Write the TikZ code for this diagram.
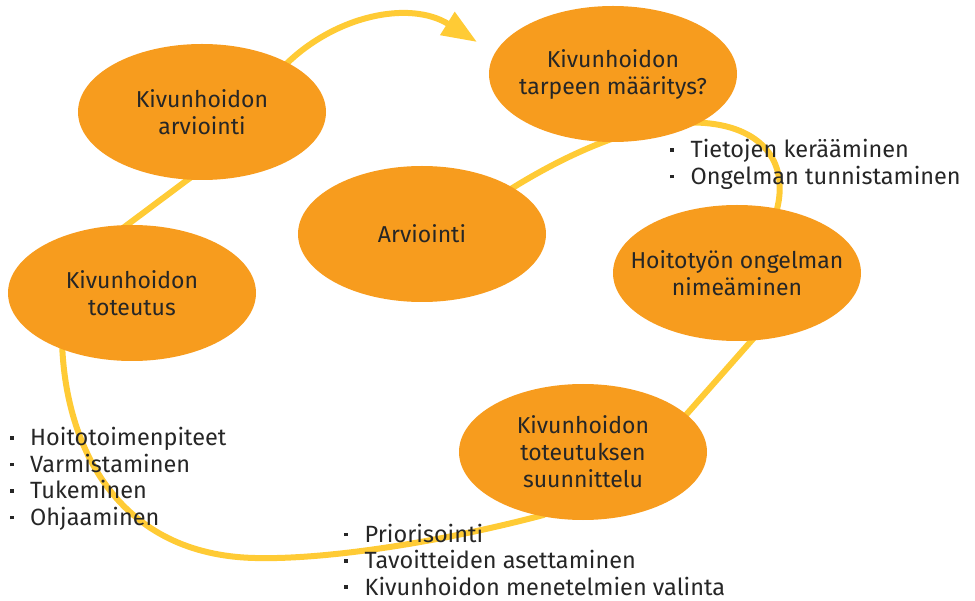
\documentclass[tikz,border=0pt]{standalone}
\usepackage{fontspec}
\setmainfont{Fira Sans}
\usetikzlibrary{shapes.geometric,arrows.meta,backgrounds}
\definecolor{blob}{HTML}{F79C1E}
\definecolor{ribbon}{HTML}{FFCB35}
\definecolor{ink}{HTML}{262626}
\newcommand\bul{\raisebox{6pt}{\rule{3.5pt}{3.5pt}}}
\begin{document}
\begin{tikzpicture}[x=1pt,y=-1pt,
  stage/.style={ellipse, fill=blob, draw=none, minimum width=248pt, minimum height=136pt, inner sep=0pt},
  stagetext/.style={text=ink, align=center, inner sep=0pt, font=\fontsize{23}{27}\selectfont},
  ribbonline/.style={draw=ribbon, line width=6pt},
  listtext/.style={text=ink, anchor=base west, inner sep=0pt, font=\fontsize{23.5}{26.5}\selectfont}]
\useasboundingbox (0,0) rectangle (975,601);
\node[stage] (arv) at (202,112) {};
\node[stagetext] (arvt) at (arv.center) {Kivunhoidon\\arviointi};
\node[stage] (tarp) at (613,74) {};
\node[stagetext] (tarpt) at (tarp.center) {Kivunhoidon\\tarpeen määritys?};
\node[stage] (arvc) at (422,234) {};
\node[stagetext] (arvct) at (arvc.center) {Arviointi};
\node[stage] (hoit) at (737,273) {};
\node[stagetext] (hoitt) at (hoit.center) {Hoitotyön ongelman\\nimeäminen};
\node[stage] (tot) at (132,293) {};
\node[stagetext] (tott) at (tot.center) {Kivunhoidon\\toteutus};
\node[stage] (suun) at (583,452) {};
\node[stagetext] (suunt) at (suun.center) {Kivunhoidon\\toteutuksen\\suunnittelu};
\coordinate (tipA) at (477,42);
\begin{scope}[on background layer]
\draw[ribbonline, shorten <=-5pt, -{Triangle[length=35pt,width=26pt]}] (arv.30) .. controls (335,15) and (410,0) .. (tipA);
\draw[ribbonline, shorten <=-5pt, shorten >=-5pt] (arvc.27) .. controls (560,158) and (640,118) .. (705,123) .. controls (765,128) and (790,165) .. (hoit.58);
\draw[ribbonline, shorten <=-5pt, shorten >=-5pt] (hoit.-78) -- (suun.20);
\draw[ribbonline, shorten <=-5pt, shorten >=-5pt] (suun.-124) .. controls (450,540) and (330,560) .. (255,558) .. controls (120,555) and (66,450) .. (tot.-141);
\draw[ribbonline, shorten <=-5pt, shorten >=-5pt] (tot.94) -- (arv.-102);
\end{scope}
\node[listtext] (l1) at (10,446) {\begin{tabular}[t]{@{}l@{\hspace{16.5pt}}l@{}}\bul & Hoitotoimenpiteet\\ \bul & Varmistaminen\\ \bul & Tukeminen\\ \bul & Ohjaaminen\end{tabular}};
\node[listtext] (l2) at (670,158) {\begin{tabular}[t]{@{}l@{\hspace{17pt}}l@{}}\bul & Tietojen kerääminen\\ \bul & Ongelman tunnistaminen\end{tabular}};
\node[listtext] (l3) at (344,542) {\begin{tabular}[t]{@{}l@{\hspace{17pt}}l@{}}\bul & Priorisointi\\ \bul & Tavoitteiden asettaminen\\ \bul & Kivunhoidon menetelmien valinta\end{tabular}};
\end{tikzpicture}
\end{document}
